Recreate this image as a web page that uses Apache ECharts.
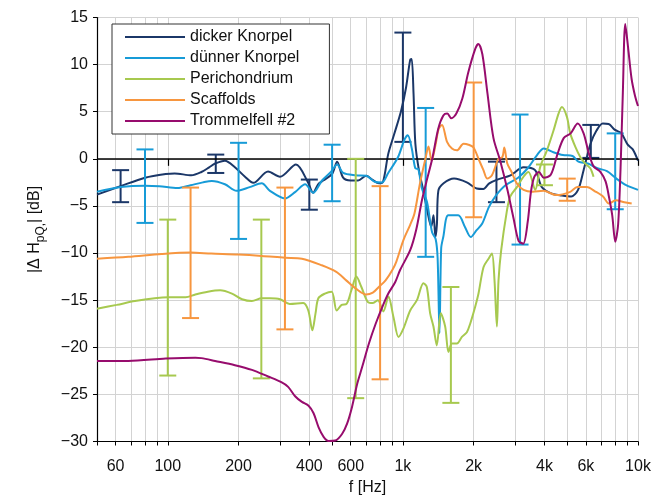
<!DOCTYPE html>
<html><head><meta charset="utf-8">
<script src="https://cdn.jsdelivr.net/npm/echarts@6/dist/echarts.min.js"></script>
<style>html,body{margin:0;padding:0;background:#fff}#c{width:667px;height:498px}</style>
</head><body><div id="c"></div>
<script>
// ---------- data ----------
const seriesNames = ['dicker Knorpel', 'dünner Knorpel', 'Perichondrium', 'Scaffolds', 'Trommelfell #2'];

const xGridFreqs = [50,60,70,80,90,100,200,300,400,500,600,700,800,900,1000,2000,3000,4000,5000,6000,7000,8000,9000,10000];
const xLabelFreqs = [60,100,200,400,600,1000,2000,4000,6000,10000];
const xMajorFreqs = [100,1000,10000];

const dickerFreq = [50,63,80,98,107,126,139,150,159,175,193,213,231,267,300,351,395,415,436,458,500,525,557,600,645,698,740,792,824,866,918,983,1032,1074,1090,1110,1130,1170,1220,1270,1320,1350,1375,1395,1415,1490,1650,1870,2060,2200,2330,2520,2870,3260,3650,3900,4300,4750,5200,5560,5870,6280,6660,7080,7500,7950,8500,9040,9500,10000];
const dickerDb = [-3.8,-2.9,-2.0,-1.6,-1.55,-1.75,-1.4,-0.9,-0.5,-0.2,-0.9,-1.9,-2.55,-1.35,-1.9,-0.6,-2.5,-3.6,-2.7,-2.3,-1.6,-0.3,-2.0,-2.3,-2.3,-1.8,-2.2,-2.6,-2.4,0.5,2.6,5.1,7.6,10.5,10.6,6.9,1.6,-1.2,-3.3,-5.5,-7.2,-6.0,-8.3,-7.0,-3.4,-2.6,-2.1,-2.5,-3.15,-3.2,-2.6,-2.2,-1.75,-0.9,-1.2,-3.0,-3.7,-3.9,-4.0,-3.3,-1.2,1.6,3.0,3.75,3.7,3.1,2.7,1.5,1.0,-0.2];

const duennerFreq = [50,63,80,92,110,125,141,154,175,196,223,251,272,315,349,384,415,453,494,525,557,631,698,763,815,866,954,1014,1049,1091,1129,1163,1203,1267,1331,1378,1405,1431,1455,1485,1560,1720,1834,1945,2054,2172,2324,2486,2730,3092,3395,3720,3975,4366,4795,5267,5579,6120,6720,7380,8100,8900,10000];
const duennerDb = [-3.5,-3.0,-2.85,-2.9,-3.1,-2.8,-2.5,-2.35,-2.7,-3.4,-3.0,-2.6,-3.4,-4.2,-3.5,-2.7,-3.6,-2.3,-1.4,-0.6,-1.5,-1.75,-1.8,-2.45,-2.5,-1.5,0.2,2.0,2.5,1.1,-1.0,-1.1,-3.1,-4.6,-7.8,-8.5,-10.5,-18.5,-9.5,-8.3,-6.0,-6.0,-7.2,-8.3,-7.6,-6.9,-5.1,-3.9,-2.8,-2.0,-1.0,0.4,1.1,0.7,0.4,0.3,-0.3,-0.5,-1.0,-1.3,-2.1,-2.8,-3.3];

const periFreq = [50,60.6,72.5,88,100.6,119,131,148,167,187.5,207,228,251,272,300,330,377,396,412,425,437,466,498,523,549,576,604,634,666,710,746,783,826,868,912,958,1006,1074,1147,1223,1264,1306,1349,1394,1450,1513,1563,1616,1697,1782,1871,1933,2030,2097,2202,2313,2392,2453,2511,2551,2619,2770,2860,3054,3258,3422,3654,3838,4099,4372,4592,4747,4985,5148,5409,5681,5966,6266,6470];
const periDb = [-15.9,-15.5,-15.1,-14.8,-14.7,-14.7,-14.4,-14.1,-13.95,-14.3,-14.9,-15.1,-14.8,-14.8,-14.9,-15.4,-15.3,-16.1,-18.2,-16.4,-14.8,-14.3,-14.1,-16.1,-15.5,-15.4,-13.95,-12.5,-13.6,-15.2,-15.3,-15.0,-16.2,-14.6,-16.8,-18.9,-18.0,-16.1,-15.0,-13.2,-13.6,-16.4,-17.8,-19.8,-16.4,-17.8,-20.5,-19.6,-19.6,-18.9,-18.4,-17.5,-15.7,-14.3,-11.5,-10.6,-10.05,-12.9,-17.8,-12.9,-9.7,-5.5,-4.0,-3.0,-1.9,-1.4,-3.3,-0.85,0.9,3.0,4.8,5.5,4.45,2.7,1.3,0.2,-0.5,-1.0,-1.9];

const scaffFreq = [50,68,94,125,153,199,251,315,372,452,521,574,633,697,745,790,844,902,938,1006,1074,1120,1182,1247,1285,1325,1375,1420,1467,1541,1617,1698,1811,1902,1997,2097,2201,2284,2392,2550,2650,2700,2780,2900,3050,3260,3560,3960,4500,5150,5520,6050,6620,7100,7520,8040,8750,9400];
const scaffDb = [-10.6,-10.4,-10.1,-9.95,-10.05,-10.15,-10.3,-10.5,-10.6,-11.3,-12.0,-12.9,-13.8,-14.4,-14.2,-13.6,-12.9,-11.8,-10.9,-8.6,-7.0,-5.8,-2.6,0.0,1.3,-0.2,1.4,3.2,3.6,1.8,1.1,0.9,1.6,1.5,1.2,0,-1.2,-2.1,-1.75,0,0.2,1.2,-0.5,-1.4,-2.6,-3.3,-3.5,-3.4,-3.85,-3.5,-3.0,-3.0,-3.5,-4.0,-4.75,-4.4,-4.6,-4.75];

const trommelFreq = [50,68,98,131,139,159,193,228,267,304,325,348,372,397,417,438,460,483,516,551,579,608,639,671,717,766,818,867,927,973,1074,1140,1205,1257,1333,1414,1486,1545,1606,1688,1790,1898,2033,2094,2178,2288,2428,2600,2785,2955,3105,3249,3395,3505,3625,3790,3975,4255,4545,4830,5170,5540,5870,6160,6475,6930,7280,7520,7770,8004,8230,8430,8620,8827,9085,9390,9710,10000];
const trommelDb = [-21.45,-21.45,-21.2,-21.1,-21.15,-21.45,-21.9,-22.4,-23.1,-23.7,-24.2,-25.2,-25.8,-26.2,-27.0,-28.5,-29.5,-29.95,-29.9,-29.2,-28.1,-26.3,-23.9,-22.1,-19.6,-17.5,-15.7,-14.3,-13.1,-11.8,-9.7,-7.5,-4.4,-2.5,0,3.2,4.6,4.8,4.3,4.8,6.4,9.2,11.7,12.2,11.1,7.0,2.2,-0.3,-3.3,-6.3,-8.7,-9.0,-6.7,-3.5,-1.9,-1.4,-2.0,-1.7,0.5,2.2,2.7,3.75,2.7,0.7,-0.8,-1.4,-2.4,-4.0,-6.0,-8.8,-7.0,-1.0,7.0,14.3,11.7,8.5,6.7,5.6];

// error bars (low / high in dB)
const dickerErrFreq = [63,160,400,1000,2500,6300];
const dickerErrLow  = [-4.6,-1.5,-5.4,1.8,-4.6,0.1];
const dickerErrHigh = [-1.2,0.45,-2.2,13.4,-0.3,3.6];
const duennerErrFreq = [80,200,500,1250,3150,8000];
const duennerErrLow  = [-6.8,-8.5,-4.5,-10.4,-9.1,-5.35];
const duennerErrHigh = [1.0,1.7,1.5,5.4,4.7,2.7];
const periErrFreq = [100,250,630,1600,4000];
const periErrLow  = [-23.0,-23.3,-25.4,-25.9,-2.8];
const periErrHigh = [-6.45,-6.45,0.0,-13.6,-0.6];
const scaffErrFreq = [125,315,800,2000,5000];
const scaffErrLow  = [-16.9,-18.1,-23.4,-6.2,-4.45];
const scaffErrHigh = [-3.05,-3.05,-2.9,8.1,-2.1];

// ---------- styles ----------
const colors = ['#1b3768', '#179bd7', '#a7c94f', '#f7963f', '#970c6d'];
const FONT = 'Liberation Sans, Arial, sans-serif';
const lg = v => Math.log10(v);

function linePts(fr, db) { return fr.map((f, i) => [lg(f), db[i]]); }
function errPts(fr, lo, hi) { return fr.map((f, i) => [lg(f), lo[i], hi[i]]); }

function errRender(color) {
  return function (params, api) {
    const x = api.value(0), lo = api.value(1), hi = api.value(2);
    const a = api.coord([x, lo]), b = api.coord([x, hi]);
    const w = 8.5;
    const st = { stroke: color, lineWidth: 2, fill: null };
    return { type: 'group', children: [
      { type: 'line', shape: { x1: a[0], y1: a[1], x2: b[0], y2: b[1] }, style: st },
      { type: 'line', shape: { x1: a[0] - w, y1: a[1], x2: a[0] + w, y2: a[1] }, style: st },
      { type: 'line', shape: { x1: b[0] - w, y1: b[1], x2: b[0] + w, y2: b[1] }, style: st }
    ]};
  };
}

const lines = [
  linePts(dickerFreq, dickerDb),
  linePts(duennerFreq, duennerDb),
  linePts(periFreq, periDb),
  linePts(scaffFreq, scaffDb),
  linePts(trommelFreq, trommelDb)
];
const errs = [
  errPts(dickerErrFreq, dickerErrLow, dickerErrHigh),
  errPts(duennerErrFreq, duennerErrLow, duennerErrHigh),
  errPts(periErrFreq, periErrLow, periErrHigh),
  errPts(scaffErrFreq, scaffErrLow, scaffErrHigh),
  null
];

const series = [{
  type: 'line', name: '_zero', data: [], symbol: 'none', silent: true, z: 1,
  markLine: { silent: true, symbol: 'none', label: { show: false },
    lineStyle: { color: '#000', width: 1.6, type: 'solid' },
    data: [{ yAxis: 0 }] }
}];
seriesNames.forEach((n, i) => {
  series.push({
    type: 'line', name: n, data: lines[i], symbol: 'none', showSymbol: false,
    smooth: 0.3, lineStyle: { color: colors[i], width: 2 }, itemStyle: { color: colors[i] },
    z: 3 + i * 2, silent: true
  });
  if (errs[i]) {
    series.push({
      type: 'custom', name: '_err' + i, data: errs[i], renderItem: errRender(colors[i]),
      encode: { x: 0, y: [1, 2] }, z: 4 + i * 2, silent: true
    });
  }
});

const chart = echarts.init(document.getElementById('c'), null, { renderer: 'canvas' });
chart.setOption({
  animation: false,
  backgroundColor: '#fff',
  grid: { left: 97, right: 29, top: 17.5, bottom: 56.5, containLabel: false, outerBoundsMode: 'none' },
  legend: {
    data: seriesNames, orient: 'vertical', left: 112, top: 24,
    icon: 'rect', itemWidth: 60, itemHeight: 2.2, itemGap: 5,
    backgroundColor: '#fff', borderColor: '#333', borderWidth: 1,
    padding: [5, 30, 5, 13],
    textStyle: { fontFamily: FONT, fontSize: 16, color: '#111' }
  },
  xAxis: [{
    type: 'value', min: lg(50), max: 4,
    name: 'f [Hz]', nameLocation: 'middle', nameGap: 38,
    nameTextStyle: { fontFamily: FONT, fontSize: 16, color: '#111' },
    axisLine: { show: true, onZero: false, lineStyle: { color: '#000', width: 1.2 } },
    axisTick: { show: true, inside: false, length: 4, customValues: xGridFreqs.map(lg), lineStyle: { color: '#000' } },
    axisLabel: { show: true, margin: 17, customValues: xLabelFreqs.map(lg), fontFamily: FONT, fontSize: 16, color: '#111',
      formatter: v => { const f = Math.round(Math.pow(10, v)); return f >= 1000 ? (f / 1000) + 'k' : String(f); } },
    splitLine: { show: true, lineStyle: { color: '#d3d3d3', width: 1 } }
  }, {
    type: 'value', min: lg(50), max: 4, position: 'bottom',
    axisLine: { show: false },
    axisTick: { show: true, length: 7, customValues: xMajorFreqs.map(lg), lineStyle: { color: '#000', width: 1.2 } },
    axisLabel: { show: false }, splitLine: { show: false }
  }],
  yAxis: {
    type: 'value', min: -30, max: 15, interval: 5,
    name: '{a||Δ H}{s|pQ,}{a|| [dB]}', nameLocation: 'middle', nameGap: 50, nameRotate: 90,
    nameTextStyle: { fontFamily: FONT, fontSize: 16, color: '#111',
      rich: {
        a: { fontFamily: FONT, fontSize: 16, color: '#111', lineHeight: 24, verticalAlign: 'middle' },
        s: { fontFamily: FONT, fontSize: 12, color: '#111', lineHeight: 10, verticalAlign: 'bottom' }
      } },
    axisLine: { show: true, lineStyle: { color: '#000', width: 1.2 } },
    axisTick: { show: true, length: 4, lineStyle: { color: '#000' } },
    axisLabel: { margin: 9, fontFamily: FONT, fontSize: 16, color: '#111',
      formatter: v => v < 0 ? '\u2212' + Math.abs(v) : String(v) },
    splitLine: { show: true, lineStyle: { color: '#d3d3d3', width: 1 } }
  },
  series: series
});
</script>
</body></html>
